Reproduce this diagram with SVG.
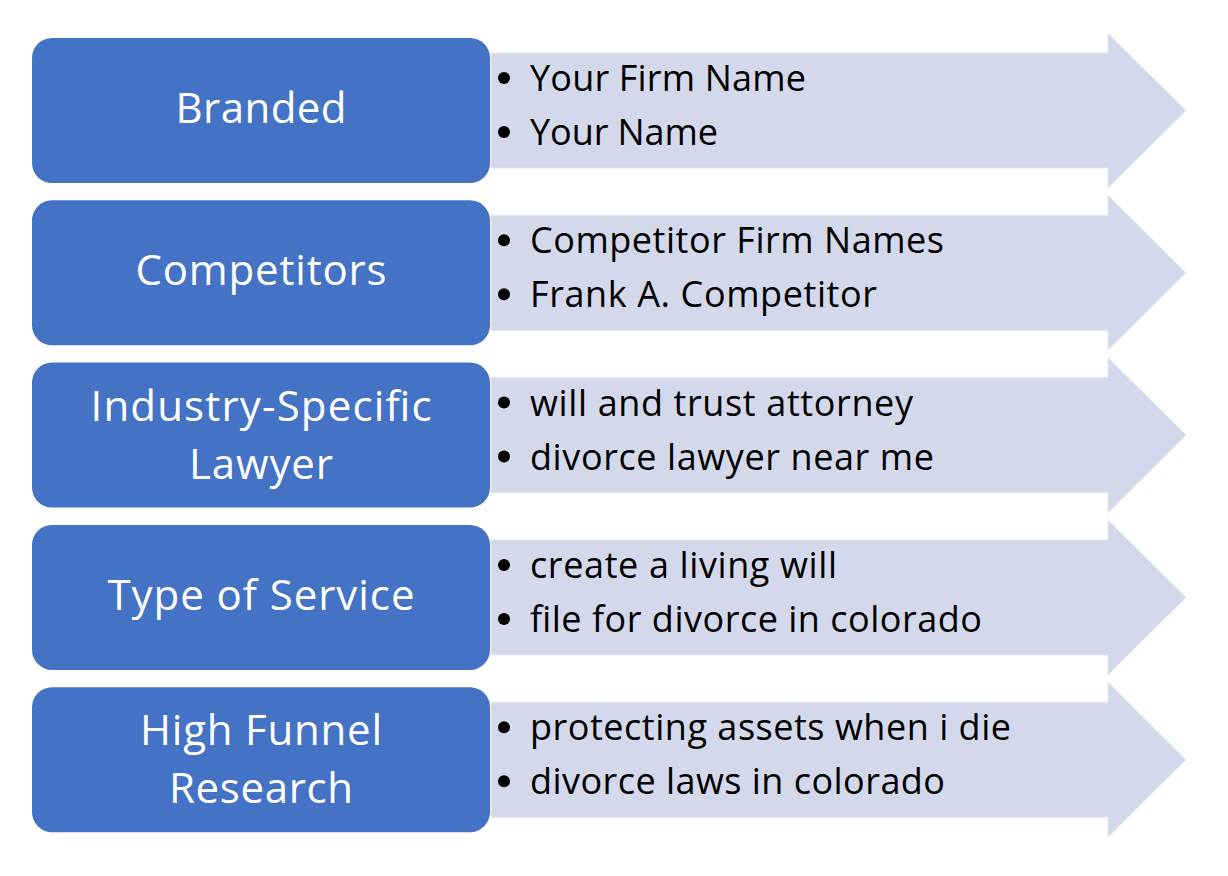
<svg xmlns="http://www.w3.org/2000/svg" width="1228" height="876" viewBox="0 0 1228 876">
<style>
.box{fill:#4472C4}
.arrow{fill:#D3D8EA;stroke:#E4E8F3;stroke-width:1}
.lbl{font-family:"Open Sans","Liberation Sans",sans-serif;font-size:42px;fill:#FFFFFF;text-anchor:middle}
.bul{font-family:"Open Sans","Liberation Sans",sans-serif;font-size:36px;fill:#000000}
.dot{fill:#000000}
</style>
<defs>
<path id="arrowShape" d="M491,15 H1108 V-5 L1186,72.5 L1108,150 V130 H491 Z"/>
<rect id="boxShape" x="32" y="0" width="458" height="145" rx="20" ry="20"/>
</defs>
<rect width="1228" height="876" fill="#FFFFFF"/>
<g id="connectors"></g>

<g id="row-branded" transform="translate(0,38)">
<use href="#arrowShape" class="arrow"/>
<use href="#boxShape" class="box"/>
<text class="lbl" x="261" y="85" textLength="171">Branded</text>
<circle class="dot" cx="504" cy="40" r="6"/>
<text class="bul" x="530" y="53" textLength="276">Your Firm Name</text>
<circle class="dot" cx="504" cy="94" r="6"/>
<text class="bul" x="530" y="107" textLength="188">Your Name</text>
</g>

<g id="row-competitors" transform="translate(0,200.3)">
<use href="#arrowShape" class="arrow"/>
<use href="#boxShape" class="box"/>
<text class="lbl" x="261" y="85" textLength="251">Competitors</text>
<circle class="dot" cx="504" cy="40" r="6"/>
<text class="bul" x="530" y="53" textLength="414">Competitor Firm Names</text>
<circle class="dot" cx="504" cy="94" r="6"/>
<text class="bul" x="530" y="107" textLength="347">Frank A. Competitor</text>
</g>

<g id="row-industry" transform="translate(0,362.6)">
<use href="#arrowShape" class="arrow"/>
<use href="#boxShape" class="box"/>
<text class="lbl" x="261" y="58" textLength="341">Industry-Specific</text>
<text class="lbl" x="261" y="116" textLength="144">Lawyer</text>
<circle class="dot" cx="504" cy="40" r="6"/>
<text class="bul" x="530" y="53" textLength="383">will and trust attorney</text>
<circle class="dot" cx="504" cy="94" r="6"/>
<text class="bul" x="530" y="107" textLength="404">divorce lawyer near me</text>
</g>

<g id="row-service" transform="translate(0,524.9)">
<use href="#arrowShape" class="arrow"/>
<use href="#boxShape" class="box"/>
<text class="lbl" x="261" y="85" textLength="307">Type of Service</text>
<circle class="dot" cx="504" cy="40" r="6"/>
<text class="bul" x="530" y="53" textLength="307">create a living will</text>
<circle class="dot" cx="504" cy="94" r="6"/>
<text class="bul" x="530" y="107" textLength="452">file for divorce in colorado</text>
</g>

<g id="row-funnel" transform="translate(0,687.2)">
<use href="#arrowShape" class="arrow"/>
<use href="#boxShape" class="box"/>
<text class="lbl" x="261" y="58" textLength="242">High Funnel</text>
<text class="lbl" x="261" y="116" textLength="184">Research</text>
<circle class="dot" cx="504" cy="40" r="6"/>
<text class="bul" x="530" y="53" textLength="481">protecting assets when i die</text>
<circle class="dot" cx="504" cy="94" r="6"/>
<text class="bul" x="530" y="107" textLength="415">divorce laws in colorado</text>
</g>
</svg>
